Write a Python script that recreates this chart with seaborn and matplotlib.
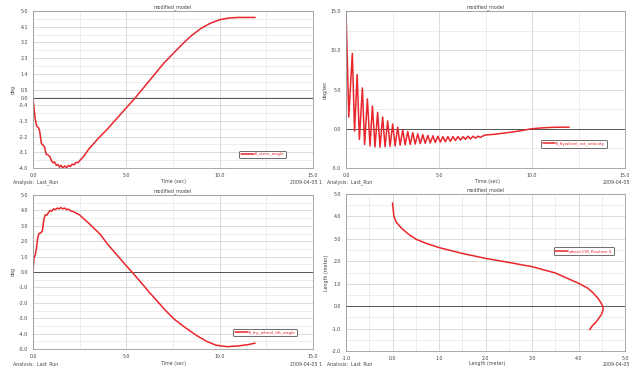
import numpy as np
import pandas as pd
import matplotlib
matplotlib.use("Agg")
import matplotlib.pyplot as plt
from matplotlib.ticker import FixedLocator, FormatStrFormatter
import seaborn as sns

sns.set_style("white")
plt.rcParams['font.family'] = ['DejaVu Sans']

RED = '#e8262b'
FS = 3.4

# ---- values ----
# top left: steer angle (deg) vs time
steer_t = [0.0, 0.05, 0.12, 0.2, 0.3, 0.36, 0.45, 0.55, 0.62, 0.7, 0.8, 0.9, 1.0, 1.07,
           1.15, 1.25, 1.34, 1.42, 1.5, 1.6, 1.7, 1.8, 1.9, 2.0, 2.1, 2.2, 2.3, 2.4, 2.5,
           2.7, 3.0, 3.5, 4.0, 4.5, 5.0, 5.5, 6.0, 6.5, 7.0, 7.5, 8.0, 8.5, 9.0, 9.5,
           10.0, 10.5, 11.0, 11.9]
steer_deg = [0.0, -0.5, -1.2, -1.6, -1.7, -1.9, -2.6, -2.7, -2.8, -3.2, -3.25, -3.35, -3.6, -3.7,
             -3.65, -3.85, -3.8, -3.95, -3.85, -4.0, -3.88, -3.98, -3.85, -3.92, -3.78, -3.82, -3.68, -3.7, -3.58,
             -3.35, -2.9, -2.3, -1.75, -1.15, -0.55, 0.05, 0.7, 1.35, 2.0, 2.55, 3.1, 3.6, 4.0, 4.3,
             4.5, 4.6, 4.63, 4.63]

# top right: flywheel velocity (deg/sec) vs time
fly_t = [0.00, 0.15, 0.34, 0.46, 0.60, 0.72, 0.88, 1.00, 1.15, 1.29, 1.42, 1.56, 1.70, 1.83,
         1.97, 2.10, 2.24, 2.37, 2.51, 2.64, 2.78, 2.91, 3.05, 3.18, 3.32, 3.45, 3.59, 3.72,
         3.86, 3.99, 4.13, 4.26, 4.40, 4.53, 4.67, 4.80, 4.94, 5.07, 5.21, 5.34, 5.48, 5.61,
         5.75, 5.88, 6.02, 6.15, 6.29, 6.42, 6.56, 6.69, 6.83, 6.96, 7.10, 7.23, 7.37, 7.50,
         8.0, 8.5, 9.0, 9.5, 10.0, 10.5, 11.0, 11.5, 12.0]
fly_vel = [15.0, 1.5, 9.6, -0.3, 6.9, -1.35, 5.2, -2.0, 3.8, -2.2, 2.9, -2.3, 2.1, -2.35,
           1.5, -2.3, 1.0, -2.25, 0.6, -2.2, 0.2, -2.1, -0.15, -2.05, -0.35, -2.0, -0.5, -1.95,
           -0.65, -1.9, -0.75, -1.85, -0.85, -1.8, -0.9, -1.75, -0.95, -1.7, -1.0, -1.65, -1.0, -1.6,
           -1.0, -1.5, -1.0, -1.45, -1.0, -1.35, -0.95, -1.3, -0.95, -1.2, -0.95, -1.1, -0.9, -0.8,
           -0.7, -0.55, -0.4, -0.2, 0.0, 0.1, 0.17, 0.2, 0.2]

# bottom left: wheel angle (deg) vs time
wheel_t = [0.0, 0.05, 0.12, 0.18, 0.25, 0.32, 0.42, 0.5, 0.58, 0.65, 0.75, 0.82, 0.92, 1.0,
           1.1, 1.2, 1.3, 1.4, 1.5, 1.6, 1.7, 1.8, 1.9, 2.0, 2.2, 2.5, 3.0, 3.6, 4.0, 4.5,
           5.0, 5.3, 5.8, 6.25, 6.7, 7.1, 7.6, 8.2, 8.8, 9.3, 9.8, 10.4, 11.0, 11.5, 11.9]
wheel_deg = [0.0, 0.9, 1.1, 1.5, 2.2, 2.5, 2.55, 2.65, 3.4, 3.7, 3.7, 3.85, 4.0, 3.95,
             4.1, 4.05, 4.15, 4.1, 4.18, 4.1, 4.15, 4.05, 4.08, 3.98, 3.9, 3.7, 3.15, 2.45, 1.8, 1.1,
             0.4, 0.0, -0.7, -1.35, -1.95, -2.5, -3.1, -3.65, -4.15, -4.5, -4.75, -4.85, -4.8, -4.72, -4.62]

# bottom right: wheel CM position, y vs x (meter)
cm_x = [0.0, 0.01, 0.03, 0.08, 0.19, 0.35, 0.52, 0.75, 1.02, 1.5, 2.0, 2.5, 3.0, 3.5, 4.0,
        4.2, 4.31, 4.42, 4.47, 4.52, 4.53, 4.5, 4.45, 4.38, 4.3, 4.24]
cm_y = [4.6, 4.4, 4.0, 3.75, 3.48, 3.2, 2.97, 2.78, 2.6, 2.35, 2.13, 1.95, 1.76, 1.48, 1.02,
        0.8, 0.6, 0.35, 0.19, 0.0, -0.15, -0.35, -0.5, -0.7, -0.87, -1.05]

# ---- axis ticks ----
tl_yticks = [5.0, 4.1, 3.2, 2.3, 1.4, 0.5, 0.0, -0.4, -1.3, -2.2, -3.1, -4.0]
tr_yticks = [15.0, 10.0, 5.0, 0.0, -5.0]
bl_yticks = [5.0, 4.0, 3.0, 2.0, 1.0, 0.0, -1.0, -2.0, -3.0, -4.0, -5.0]
br_yticks = [5.0, 4.0, 3.0, 2.0, 1.0, 0.0, -1.0, -2.0]
time_ticks = [0.0, 5.0, 10.0, 15.0]
len_ticks = [-1.0, 0.0, 1.0, 2.0, 3.0, 4.0, 5.0]

W, H = 629, 366
fig = plt.figure(figsize=(W / 100, H / 100), dpi=100)
fig.patch.set_facecolor('white')


def px_axes(x0, y0, x1, y1):
    return fig.add_axes([x0 / W, 1 - y1 / H, (x1 - x0) / W, (y1 - y0) / H])


def panel(ax, x, y, label, xlim, ylim, xticks, xminor, yticks, yminor, ylab, leg_xy):
    df = pd.DataFrame({'x': x, 'y': y})
    sns.lineplot(data=df, x='x', y='y', ax=ax, color=RED, lw=1.1, sort=False,
                 estimator=None, label=label)
    ax.axhline(0, color='#555555', lw=0.7, zorder=1)
    ax.set_xlim(*xlim)
    ax.set_ylim(*ylim)
    ax.xaxis.set_major_locator(FixedLocator(xticks))
    ax.xaxis.set_minor_locator(FixedLocator(xminor))
    ax.yaxis.set_major_locator(FixedLocator(yticks))
    ax.yaxis.set_minor_locator(FixedLocator(yminor))
    ax.xaxis.set_major_formatter(FormatStrFormatter('%.1f'))
    ax.yaxis.set_major_formatter(FormatStrFormatter('%.1f'))
    ax.grid(True, which='major', color='#cccccc', lw=0.5)
    ax.grid(True, which='minor', color='#e0e0e0', lw=0.4)
    ax.set_axisbelow(True)
    ax.tick_params(which='major', labelsize=FS, length=2, width=0.4, color='#777777',
                   pad=1.5, labelcolor='#444444')
    ax.tick_params(which='minor', length=1.2, width=0.3, color='#999999')
    for s in ax.spines.values():
        s.set_color('#9a9a9a')
        s.set_linewidth(0.6)
    ax.set_xlabel('')
    ax.set_ylabel(ylab, fontsize=FS, color='#444444', labelpad=2)
    ax.set_title('modified_model', fontsize=FS, color='#444444', pad=2)
    leg = ax.legend(loc='center', bbox_to_anchor=leg_xy, fontsize=FS * 0.9,
                    labelcolor=RED, handlelength=3, handletextpad=0.2,
                    borderpad=0.4, fancybox=True, edgecolor='#555555', framealpha=1)
    leg.get_frame().set_linewidth(0.6)


def footer(x0, x1, y, xlab, date):
    fig.text(x0 / W, 1 - y / H, 'Analysis:  Last_Run', fontsize=FS, color='#444444',
             ha='left', va='center')
    fig.text((x0 + x1) / 2 / W + 0.035, 1 - y / H, xlab, fontsize=FS, color='#444444',
             ha='center', va='center')
    fig.text(x1 / W, 1 - y / H, date, fontsize=FS, color='#444444', ha='left', va='center')


half = lambda lo, hi, step: list(np.arange(lo, hi + step / 2, step))

ax1 = px_axes(33, 11, 313, 168)
panel(ax1, steer_t, steer_deg, 'fl_steer_angle', (0, 15), (-4.0, 5.0), time_ticks,
      half(0, 15, 2.5), tl_yticks, half(-4.0, 5.0, 0.45), 'deg', (0.82, 0.086))

ax2 = px_axes(346, 11, 625, 168)
panel(ax2, fly_t, fly_vel, 'fl_flywheel_rot_velocity', (0, 15), (-5.0, 15.0), time_ticks,
      half(0, 15, 2.5), tr_yticks, half(-5.0, 15.0, 2.5), 'deg/sec', (0.817, 0.153))

ax3 = px_axes(33, 195, 313, 349)
panel(ax3, wheel_t, wheel_deg, 'fl_fry_wheel_tilt_angle', (0, 15), (-5.0, 5.0), time_ticks,
      half(0, 15, 2.5), bl_yticks, half(-5.0, 5.0, 0.5), 'deg', (0.829, 0.107))

ax4 = px_axes(346, 194, 625, 351)
panel(ax4, cm_x, cm_y, 'wheel.CM_Position.X', (-1.0, 5.0), (-2.0, 5.0), len_ticks,
      half(-1.0, 5.0, 0.5), br_yticks, half(-2.0, 5.0, 0.5), 'Length (meter)', (0.853, 0.636))

footer(13, 290, 182, 'Time (sec)', '2009-04-05 1')
footer(327, 603, 182, 'Time (sec)', '2009-04-05')
footer(13, 290, 364, 'Time (sec)', '2009-04-05 1')
footer(327, 603, 364, 'Length (meter)', '2009-04-05')

fig.savefig('out.png', dpi=100, facecolor='white')
